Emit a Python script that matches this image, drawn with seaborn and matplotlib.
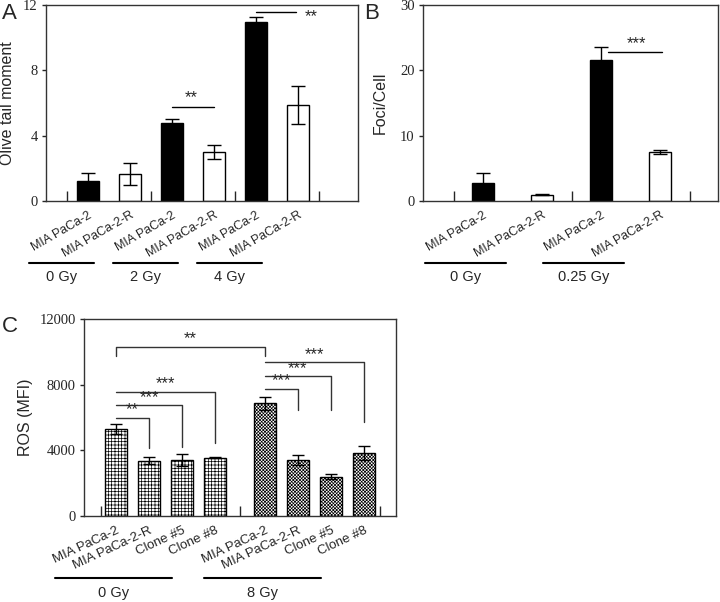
import matplotlib
matplotlib.use("Agg")
import matplotlib.pyplot as plt
import seaborn as sns
import pandas as pd
import numpy as np

sns.set_style("white")
plt.rcParams['font.family'] = ['Liberation Sans', 'DejaVu Sans']
plt.rcParams['hatch.linewidth'] = 0.5

# Panel A - comet assay
a_labels = ["MIA PaCa-2", "MIA PaCa-2-R"] * 3
a_mean = [1.25, 1.65, 4.78, 3.0, 10.98, 5.88]
a_err = [0.45, 0.65, 0.25, 0.4, 0.3, 1.18]
a_fill = ["black", "white"] * 3
a_doses = ["0 Gy", "2 Gy", "4 Gy"]

# Panel B - foci
b_labels = ["MIA PaCa-2", "MIA PaCa-2-R"] * 2
b_mean = [2.8, 0.95, 21.6, 7.5]
b_err = [1.45, 0.08, 2.0, 0.3]
b_fill = ["black", "white"] * 2
b_doses = ["0 Gy", "0.25 Gy"]

# Panel C - ROS
c_labels = ["MIA PaCa-2", "MIA PaCa-2-R", "Clone #5", "Clone #8"] * 2
c_mean = [5300, 3380, 3420, 3560, 6860, 3420, 2400, 3830]
c_err = [300, 220, 360, 50, 400, 290, 170, 410]
c_dose = ["0 Gy"] * 4 + ["8 Gy"] * 4
c_doses = ["0 Gy", "8 Gy"]

serif = ['Liberation Serif', 'DejaVu Serif']


def style_axes(ax, yticks):
    for s in ax.spines.values():
        s.set_visible(True)
        s.set_color("#333333")
        s.set_linewidth(1)
    ax.tick_params(axis='y', direction='out', length=3, width=1, left=True, pad=3)
    ax.tick_params(axis='x', which='major', length=0, pad=6)
    ax.tick_params(axis='x', which='minor', direction='in', length=7, width=1, bottom=True)
    ax.set_yticks(yticks)
    ax.set_yticklabels([str(v) for v in yticks], family=serif, fontsize=10.5)
    ax.set_xlabel("")


def set_xlabels(ax, pos, labels, rot, size):
    ax.set_xticks(pos)
    ax.set_xticklabels(labels, fontsize=size)
    for t in ax.get_xticklabels():
        t.set_rotation(rot)
        t.set_ha("right")
        t.set_rotation_mode("anchor")


def group_lines(ax, starts, x0, x1, doses):
    tr = ax.get_xaxis_transform()
    for s, dose in zip(starts, doses):
        ax.plot([s + x0, s + x1], [-0.316, -0.316], color="black", lw=1.5,
                transform=tr, clip_on=False)
        ax.text(s + (x0 + x1) / 2, -0.39, dose, ha="center", va="center",
                fontsize=10.5, transform=tr)


fig = plt.figure(figsize=(7.2, 6.02), dpi=100)

# ---------- A ----------
axA = fig.add_axes([46 / 720, 1 - 201 / 602, 312 / 720, 196 / 602])
dfA = pd.DataFrame({"pos": range(len(a_mean)), "val": a_mean, "fill": a_fill})
sns.barplot(data=dfA, x="pos", y="val", hue="fill", dodge=False,
            palette={"black": "black", "white": "white"}, legend=False,
            width=0.53, edgecolor="black", linewidth=1, errorbar=None, ax=axA)
axA.errorbar(range(len(a_mean)), a_mean, yerr=a_err, fmt="none", ecolor="black",
             elinewidth=1, capsize=5, capthick=1)
style_axes(axA, [0, 4, 8, 12])
axA.set_xlim(-1.0, 6.43)
axA.set_ylim(0, 12)
set_xlabels(axA, range(len(a_labels)), a_labels, 30, 9)
axA.set_xticks([-0.5, 1.5, 3.5, 5.5], minor=True)
axA.set_ylabel("Olive tail moment", fontsize=11.5)
axA.yaxis.set_label_coords(-0.10, 0.5)
axA.plot([2, 3], [5.78, 5.78], color="black", lw=1)
axA.text(2.45, 5.85, "**", ha="center", va="bottom", fontsize=12)
axA.plot([4, 4.95], [11.55, 11.55], color="black", lw=1)
axA.text(5.15, 11.3, "**", ha="left", va="center", fontsize=12)
group_lines(axA, [0, 2, 4], -1.4, 0.15, a_doses)

# ---------- B ----------
axB = fig.add_axes([423 / 720, 1 - 201 / 602, 295 / 720, 196 / 602])
dfB = pd.DataFrame({"pos": range(len(b_mean)), "val": b_mean, "fill": b_fill})
sns.barplot(data=dfB, x="pos", y="val", hue="fill", dodge=False,
            palette={"black": "black", "white": "white"}, legend=False,
            width=0.37, edgecolor="black", linewidth=1, errorbar=None, ax=axB)
axB.errorbar(range(len(b_mean)), b_mean, yerr=b_err, fmt="none", ecolor="black",
             elinewidth=1, capsize=5, capthick=1)
style_axes(axB, [0, 10, 20, 30])
axB.set_xlim(-1.02, 3.98)
axB.set_ylim(0, 30)
set_xlabels(axB, range(len(b_labels)), b_labels, 30, 9)
axB.set_xticks([-0.5, 1.5, 3.5], minor=True)
axB.set_ylabel("Foci/Cell", fontsize=11.5)
axB.yaxis.set_label_coords(-0.119, 0.5)
axB.plot([2.12, 3.03], [22.75, 22.75], color="black", lw=1)
axB.text(2.6, 22.9, "***", ha="center", va="bottom", fontsize=12)
group_lines(axB, [0, 2], -0.98, 0.39, b_doses)

# ---------- C ----------
axC = fig.add_axes([84 / 720, 1 - 516 / 602, 312 / 720, 197 / 602])
c_pos = np.arange(len(c_mean)) + 0.5 * (np.arange(len(c_mean)) >= 4)
dfC = pd.DataFrame({"pos": c_pos, "val": c_mean, "dose": c_dose})
sns.barplot(data=dfC, x="pos", y="val", hue="dose", dodge=False, native_scale=True,
            palette={"0 Gy": "white", "8 Gy": "white"}, legend=False,
            width=0.67, edgecolor="black", linewidth=1, errorbar=None, ax=axC)
for p in axC.patches:
    cx = p.get_x() + p.get_width() / 2
    p.set_hatch("+++++" if cx < 4 else "xxxxxxxxxx")
axC.errorbar(c_pos, c_mean, yerr=c_err, fmt="none", ecolor="black",
             elinewidth=1, capsize=4, capthick=1)
style_axes(axC, [0, 4000, 8000, 12000])
axC.set_xlim(-0.97, 8.48)
axC.set_ylim(0, 12000)
set_xlabels(axC, c_pos, c_labels, 25, 9.5)
axC.set_xticks([-0.47, 3.76, 8.0], minor=True)
axC.set_ylabel("ROS (MFI)", fontsize=11.5)
axC.yaxis.set_label_coords(-0.163, 0.5)

# significance brackets: left bar, right bar, bar height, left leg end, right leg end, label
c_sig = [
    (0, 4.5, 10300, 9720, 9720, "**"),
    (0, 1, 5990, 5990, 4170, "**"),
    (0, 2, 6760, 6760, 4200, "***"),
    (0, 3, 7580, 7580, 4460, "***"),
    (4.5, 5.5, 7740, 7740, 6460, "***"),
    (4.5, 6.5, 8510, 8510, 6460, "***"),
    (4.5, 7.5, 9370, 9370, 5740, "***"),
]
for x0, x1, y, yl, yr, lab in c_sig:
    axC.plot([x0, x0, x1, x1], [yl, y, y, yr], color="#333333", lw=1)
    axC.text((x0 + x1) / 2, y + 20, lab, ha="center", va="bottom", fontsize=12)
group_lines(axC, [0, 4.5], -1.85, 1.70, c_doses)

fig.text(2 / 720, 1 - 3 / 602, "A", fontsize=16, va="top", ha="left")
fig.text(364 / 720, 1 - 3 / 602, "B", fontsize=16, va="top", ha="left")
fig.text(2 / 720, 1 - 316 / 602, "C", fontsize=16, va="top", ha="left")

fig.savefig("out.png", dpi=100)
